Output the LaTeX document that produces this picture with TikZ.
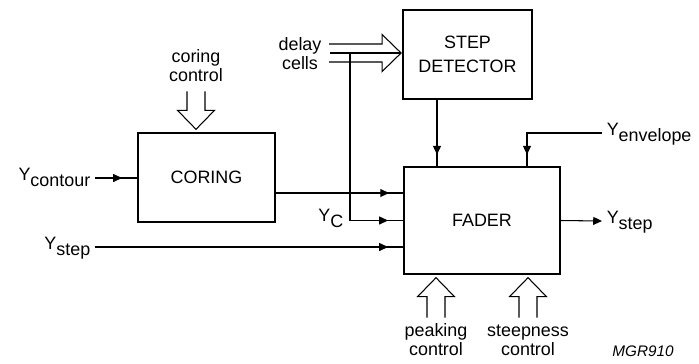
\documentclass[tikz,border=0pt]{standalone}
\usepackage{fontspec}
\setmainfont{Liberation Sans}
\usetikzlibrary{positioning,arrows.meta,decorations.markings}
\newcommand{\sig}[1]{Y\raisebox{-3.2pt}[0pt][0pt]{#1}\rule[-4pt]{0pt}{4pt}}
\newcommand{\hollowarrow}[3]{%
  \draw[line, shift={#1}, rotate=#2] (-#3,-9) -- (-19,-9) -- (-19,-18.5) -- (0,0)
    -- (-19,18.5) -- (-19,9) -- (-#3,9);}

\begin{document}
\begin{tikzpicture}[
  x=0.02cm, y=-0.02cm,
  block/.style={draw, line width=1.2pt, inner sep=0pt, align=center,
                font=\fontsize{10.2}{13.6}\selectfont},
  lbl/.style={inner sep=2.5pt, align=center, font=\fontsize{10.2}{10.8}\selectfont},
  line/.style={line width=0.6pt},
  arrow/.style={line, -{Triangle[length=5pt,width=4.5pt]}},
  midarrow/.style={line, postaction={decorate, decoration={markings,
                   mark=at position -#1 with {\arrow{Triangle[length=5pt,width=4.5pt]}}}}},
  midarrow/.default=8.5pt
]
  \useasboundingbox (0,0) rectangle (699,363);

  \node[block, minimum width=2.58cm, minimum height=1.78cm] (det) at (467.5,54.5) {STEP\\DETECTOR};
  \node[block, minimum width=2.74cm, minimum height=1.78cm] (cor) at (206.5,177.5) {CORING};
  \node[block, minimum width=3.12cm, minimum height=2.14cm] (fad) at (482,220.5) {FADER};

  \node[lbl, anchor=east] (ycon)   at (95,178)  {\sig{contour}};
  \node[lbl, anchor=east] (ystin)  at (95,247)  {\sig{step}};
  \node[lbl, anchor=west] (yenv)   at (602,133) {\sig{envelope}};
  \node[lbl, anchor=west] (ystout) at (602,221) {\sig{step}};
  \node[lbl, anchor=north east] (yc) at (348,204.5) {\sig{C}};

  \node[lbl] (corctl) at (196,66)    {coring\\control};
  \node[lbl] (dly)    at (300,54)    {delay\\cells};
  \node[lbl] (pk)     at (436,339.5) {peaking\\control};
  \node[lbl] (st)     at (528,340)   {steepness\\control};
  \node[font=\fontsize{8.7}{10}\selectfont\itshape] (mgr) at (643,351.5) {MGR910};

  \coordinate (dl)  at (330,53);
  \coordinate (tap) at (350,53);
  \coordinate (f1)  at (404,193);
  \coordinate (fa)  at (437,167);
  \coordinate (fb)  at (527,167);

  \hollowarrow{([yshift=1.5pt]cor.north -| corctl.south)}{-90}{38}
  \hollowarrow{([yshift=-1.5pt]fad.south -| pk.north)}{90}{40}
  \hollowarrow{([yshift=-1.5pt]fad.south -| st.north)}{90}{40}
  \hollowarrow{([xshift=-0.5pt]det.west |- tap)}{0}{72}
  \draw[line] (dl) -- ([xshift=-1pt]det.west |- tap);

  \draw[midarrow] (ycon.east) -- (ycon.east -| cor.west);
  \draw[midarrow] (cor.east |- f1) -- (f1);
  \draw[midarrow] (tap) |- (fad.west);
  \draw[midarrow] (ystin.east) -- (ystin.east -| fad.west);
  \draw[midarrow=7pt] (fa |- det.south) -- (fa);
  \draw[midarrow=7pt] (yenv.west) -| (fb);
  \draw[arrow] (fad.east) -- (ystout.west);
\end{tikzpicture}
\end{document}
